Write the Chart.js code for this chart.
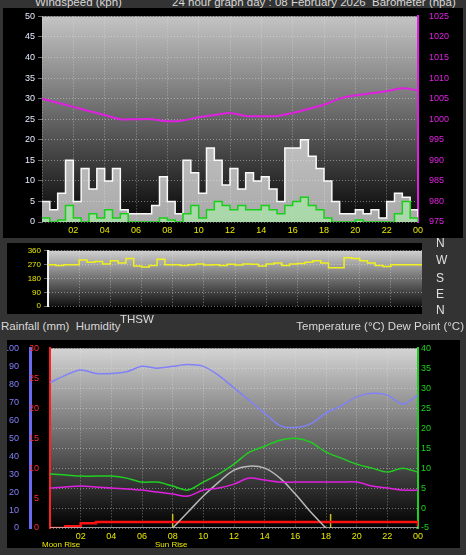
<!DOCTYPE html>
<html>
<head>
<meta charset="utf-8">
<script src="https://cdn.jsdelivr.net/npm/chart.js@4/dist/chart.umd.min.js"></script>
<style>
  body { margin: 0; width: 466px; height: 555px; background: #333; position: relative; overflow: hidden;
         font-family: "Liberation Sans", sans-serif; }
  canvas { position: absolute; background: #000; }
  .t { position: absolute; color: #d8d8d8; font-size: 11.5px; white-space: nowrap; }
  .dir { position: absolute; left: 436px; color: #e0e0e0; font-size: 12px; }
  .ev { position: absolute; color: #e8e800; font-size: 8px; top: 540px; }
</style>
</head>
<body>
<div class="t" style="left:35px;top:-4px">Windspeed (kph)</div>
<div class="t" style="left:172px;top:-4px">24 hour graph day : 08 February 2026</div>
<div class="t" style="left:372px;top:-4px">Barometer (hpa)</div>
<canvas id="wind" width="460" height="230" style="left:3px;top:8px"></canvas>
<canvas id="dir" width="415" height="71" style="left:7px;top:243px"></canvas>
<div class="dir" style="top:236px">N</div>
<div class="dir" style="top:253px">W</div>
<div class="dir" style="top:271px">S</div>
<div class="dir" style="top:287px">E</div>
<div class="dir" style="top:303px">N</div>
<div class="t" style="left:1px;top:320px">Rainfall (mm)&nbsp; Humidity</div>
<div class="t" style="left:120px;top:313px">THSW</div>
<div class="t" style="right:2px;top:320px">Temperature (°C) Dew Point (°C)</div>
<canvas id="thp" width="453" height="208" style="left:7px;top:340px"></canvas>
<div class="ev" style="left:42px">Moon Rise</div>
<div class="ev" style="left:155px">Sun Rise</div>
<script>
"use strict";

// ---- data ----
const HALF_HOURS = [0, 0.5, 1, 1.5, 2, 2.5, 3, 3.5, 4, 4.5, 5, 5.5, 6, 6.5, 7, 7.5, 8, 8.5, 9, 9.5, 10, 10.5, 11, 11.5,
  12, 12.5, 13, 13.5, 14, 14.5, 15, 15.5, 16, 16.5, 17, 17.5, 18, 18.5, 19, 19.5, 20, 20.5, 21, 21.5, 22, 22.5, 23, 23.5, 24];
const HOURS = [0, 1, 2, 3, 4, 5, 6, 7, 8, 9, 10, 11, 12, 13, 14, 15, 16, 17, 18, 19, 20, 21, 22, 23, 24];

const windGust = [5, 3, 7, 15, 5, 13, 8, 13, 10, 13, 3, 2, 2, 2, 4, 11, 5, 2, 15, 12, 7, 18, 15, 9,
  13, 8, 12, 10, 11, 8, 5, 18, 18, 20, 16, 13, 10, 5, 2, 2, 3, 2, 3, 1, 5, 7, 6, 3, 0];
const windAvg = [1, 0, 0.5, 4, 1, 0, 2, 1, 3, 1, 2, 0, 0, 0, 0, 1, 0.5, 0, 2, 4, 1, 3, 5, 4,
  3, 4, 3, 3, 4, 3, 2, 4, 5, 6, 4, 3, 1, 0, 0, 0, 0.5, 0, 0, 0, 0, 2, 5, 1, 0];
const barometer = [1005, 1004, 1003, 1002, 1001, 1000, 1000, 1000, 999.5, 999.7, 1000.5, 1001, 1001.5,
  1000.8, 1000.7, 1000.8, 1001.5, 1002.5, 1003.5, 1005, 1005.8, 1006.3, 1006.8, 1007.5, 1007];

const windDir = [270, 265, 270, 270, 300, 285, 290, 275, 295, 280, 310, 262, 255, 265, 305, 270, 270, 265, 270, 275,
  268, 270, 265, 272, 268, 275, 272, 262, 275, 280, 265, 275, 278, 285, 295, 280, 250, 250, 315, 310,
  295, 280, 265, 258, 270, 270, 270, 270, 270];

const temperature = [8.5, 8.3, 8, 8, 8, 7.5, 6.5, 6.5, 5.5, 4.5, 6.5, 8.5, 11, 14, 15.5, 17, 17.5, 16.5, 14, 12.5, 11, 10, 9, 10, 9];
const dewPoint = [5, 5.3, 5.5, 5.3, 5, 4.8, 4.5, 4, 3.5, 3, 4.5, 5, 6, 7.5, 7, 6.5, 6.5, 6.5, 6.5, 6.5, 6.5, 5.5, 5, 4.5, 4.5];
const humidity = [81, 85, 88, 86, 86, 87, 90, 89, 90, 91, 90, 85, 78, 71, 64, 57, 56, 58, 64, 68, 73, 75, 74, 69, 74];
const rainfall = [0, 0.3, 0.8, 1, 1, 1, 1, 1, 1, 1, 1, 1, 1, 1, 1, 1, 1, 1, 1, 1, 1, 1, 1, 1, 0.3];
const solarHours = [8, 9, 10, 11, 12, 13, 14, 15, 16, 17, 18];
const solarCurve = [-5, -1, 3, 6.5, 9.5, 10.5, 10, 7.5, 3.5, -1, -5];
const sunEvents = [8, 18.3];

const WIND_TICKS = [0, 50, 5];
const BARO_TICKS = [975, 1025, 5];
const DIR_TICKS = [0, 360, 90];

// ---- helpers ----
const pts = (xs, ys) => xs.map((x, i) => ({ x, y: ys[i] }));
const fixW = (w) => (s) => { s.width = w; };
const fixH = (h) => (s) => { s.height = h; };
const plain = (v) => String(v);

const bgPlugin = {
  id: "bg",
  beforeDraw(chart, args, opts) {
    const { ctx, chartArea: a } = chart;
    const g = ctx.createLinearGradient(0, a.top, 0, a.bottom);
    g.addColorStop(0, opts.top);
    g.addColorStop(1, opts.bottom);
    ctx.save();
    ctx.fillStyle = g;
    ctx.fillRect(a.left, a.top, a.width, a.height);
    ctx.restore();
  }
};
Chart.register(bgPlugin);
Chart.defaults.font.family = "Liberation Sans";
Chart.defaults.animation = false;
Chart.defaults.plugins.legend.display = false;
Chart.defaults.plugins.tooltip.enabled = false;
Chart.defaults.elements.point.radius = 0;

const gridDots = { color: "rgba(230,230,230,0.45)", lineWidth: 1 };

function timeAxis(h, show) {
  return {
    type: "linear", min: 0, max: 24, afterFit: fixH(h),
    ticks: {
      stepSize: 2, color: "#e8e800", font: { size: 9 }, display: show,
      callback: (v) => (v === 0 ? "" : String(v % 24).padStart(2, "0"))
    },
    grid: Object.assign({ drawTicks: false }, gridDots),
    border: { display: false, dash: [1, 2] }
  };
}

// ---- wind & barometer ----
new Chart(document.getElementById("wind"), {
  type: "line",
  data: {
    datasets: [
      { data: pts(HOURS, barometer), yAxisID: "baro", borderColor: "#e020e0", borderWidth: 2, tension: 0.3 },
      { data: pts(HALF_HOURS, windAvg), yAxisID: "y", borderColor: "#18d018", borderWidth: 1.5, stepped: true,
        fill: "origin", backgroundColor: "rgba(170,240,170,0.65)" },
      { data: pts(HALF_HOURS, windGust), yAxisID: "y", borderColor: "#fafafa", borderWidth: 1.5, stepped: true,
        fill: "origin", backgroundColor: "rgba(240,240,240,0.7)" }
    ]
  },
  options: {
    responsive: false,
    layout: { padding: { top: 3, right: 0 } },
    plugins: { bg: { top: "#c4c4c4", bottom: "#050505" } },
    scales: {
      x: timeAxis(16, true),
      y: {
        min: WIND_TICKS[0], max: WIND_TICKS[1], afterFit: fixW(39),
        ticks: { stepSize: WIND_TICKS[2], color: "#e4ecff", font: { size: 9 }, callback: plain },
        grid: Object.assign({ tickLength: 4 }, gridDots), border: { display: false, dash: [1, 2] }
      },
      baro: {
        position: "right", min: BARO_TICKS[0], max: BARO_TICKS[1], afterFit: fixW(45),
        ticks: { stepSize: BARO_TICKS[2], color: "#e020e0", font: { size: 9 }, callback: plain },
        grid: { display: false }, border: { color: "#e020e0", width: 2 }
      }
    }
  }
});

// ---- wind direction ----
new Chart(document.getElementById("dir"), {
  type: "line",
  data: {
    datasets: [
      { data: pts(HALF_HOURS, windDir), borderColor: "#f0f020", borderWidth: 1.5, stepped: true }
    ]
  },
  options: {
    responsive: false,
    layout: { padding: { top: 3, bottom: 2, right: 0 } },
    plugins: { bg: { top: "#d0d0d0", bottom: "#111" } },
    scales: {
      x: timeAxis(0, false),
      y: {
        min: DIR_TICKS[0], max: DIR_TICKS[1], afterFit: fixW(41),
        ticks: { stepSize: DIR_TICKS[2], color: "#e8e800", font: { size: 8 }, callback: plain },
        grid: Object.assign({ tickLength: 4 }, gridDots), border: { color: "#f0f0f0", width: 2, dash: [1, 2] }
      }
    }
  }
});

// ---- temperature, humidity, rain ----
new Chart(document.getElementById("thp"), {
  type: "line",
  data: {
    datasets: [
      { data: pts(HOURS, humidity), yAxisID: "hum", borderColor: "#8080f8", borderWidth: 1.5, tension: 0.3 },
      { data: pts(HOURS, temperature), yAxisID: "temp", borderColor: "#20d020", borderWidth: 1.5, tension: 0.3 },
      { data: pts(HOURS, dewPoint), yAxisID: "temp", borderColor: "#e020e0", borderWidth: 1.5, tension: 0.3 },
      { data: pts(solarHours, solarCurve), yAxisID: "temp", borderColor: "#b8b8b8", borderWidth: 1.5, tension: 0.4 },
      { data: pts([0, 24], [-5, -5]), yAxisID: "temp", borderColor: "#c8c8c8", borderWidth: 1.5 },
      { data: pts(HOURS, rainfall), yAxisID: "rain", borderColor: "#ff1010", borderWidth: 2.5, stepped: true },
      { data: pts([sunEvents[0], sunEvents[0]], [-5, -1.5]), yAxisID: "temp", borderColor: "#c8c020", borderWidth: 1.5 },
      { data: pts([sunEvents[1], sunEvents[1]], [-5, -1.5]), yAxisID: "temp", borderColor: "#c8c020", borderWidth: 1.5 }
    ]
  },
  options: {
    responsive: false,
    layout: { padding: { top: 3, right: 0 } },
    plugins: { bg: { top: "#d4d4d4", bottom: "#000" } },
    scales: {
      x: timeAxis(20, true),
      hum: {
        position: "left", weight: 2, min: 0, max: 100, afterFit: fixW(23),
        ticks: { stepSize: 10, color: "#8080f8", font: { size: 9 }, callback: plain },
        grid: { display: false }, border: { color: "#6a6af0", width: 3 }
      },
      rain: {
        position: "left", weight: 1, min: 0, max: 30, afterFit: fixW(20),
        ticks: { stepSize: 5, color: "#ff3030", font: { size: 9 }, callback: plain },
        grid: { display: false }, border: { color: "#ff2020", width: 2 }
      },
      temp: {
        position: "right", min: -5, max: 40, afterFit: fixW(42),
        ticks: { stepSize: 5, color: "#20d020", font: { size: 9 }, callback: plain },
        grid: Object.assign({ drawTicks: false }, gridDots), border: { color: "#20d020", width: 2, dash: [1, 2] }
      }
    }
  }
});
</script>
</body>
</html>
